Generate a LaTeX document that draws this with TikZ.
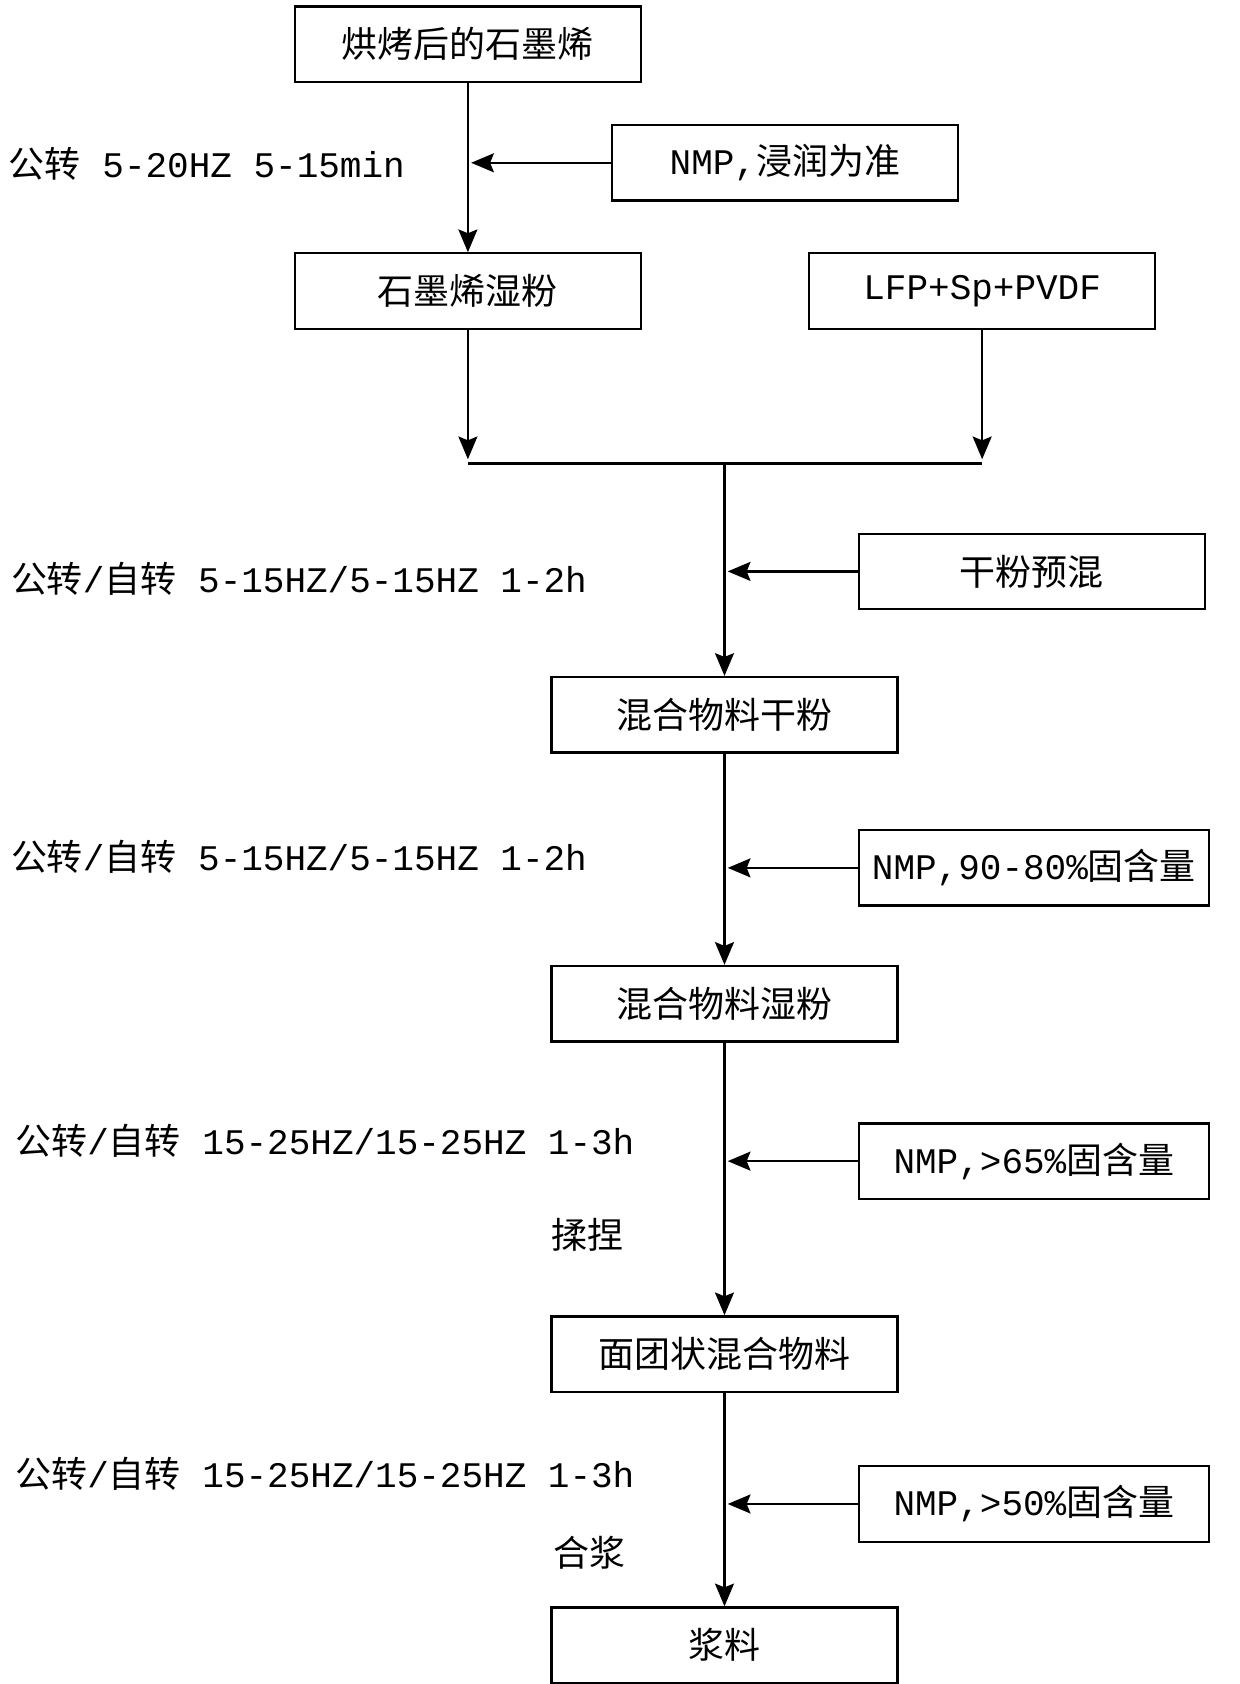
\documentclass[tikz,border=0pt]{standalone}
\usepackage{fontspec}
\setmainfont{Liberation Mono}
\newfontfamily\cjk{Noto Sans CJK SC}
\newcommand{\zh}[1]{{\cjk #1}}
\usetikzlibrary{arrows.meta, positioning, calc}

\begin{document}
\begin{tikzpicture}[x=0.02cm, y=-0.02cm]
    % --- Style Definitions ---
    \tikzset{
        step box/.style={
            draw=black,
            line width=1.2pt,
            minimum width=321*0.02cm,
            minimum height=70*0.02cm,
            font=\fontsize{19}{22}\selectfont,
            inner sep=0pt
        },
        cond text/.style={font=\fontsize{19}{22}\selectfont, anchor=west},
        flow arrow/.style={
            -{Stealth[length=12pt, width=10pt, inset=2pt]},
            line width=1.3pt
        },
        flow line/.style={line width=1.3pt}
    }

    \useasboundingbox (0,0) rectangle (1150,1562);

    % ==========================================
    % BOXES
    % ==========================================
    \node[step box] (baked) at (434,41) {\zh{烘烤后的石墨烯}};
    \node[step box] (nmp_wet) at (728,151) {NMP,\zh{浸润为准}};
    \node[step box] (wet_powder) at (434,270) {\zh{石墨烯湿粉}};
    \node[step box] (lfp) at (911,270) {LFP+Sp+PVDF};
    \node[step box] (premix) at (957,530) {\zh{干粉预混}};
    \node[step box] (dry_mix) at (672,663) {\zh{混合物料干粉}};
    \node[step box, minimum width=325*0.02cm] (nmp_90) at (959,805) {NMP,90-80\%\zh{固含量}};
    \node[step box] (wet_mix) at (672,931) {\zh{混合物料湿粉}};
    \node[step box, minimum width=325*0.02cm] (nmp_65) at (959,1077) {NMP,>65\%\zh{固含量}};
    \node[step box] (dough) at (672,1256) {\zh{面团状混合物料}};
    \node[step box, minimum width=325*0.02cm] (nmp_50) at (959,1395) {NMP,>50\%\zh{固含量}};
    \node[step box] (slurry) at (672,1526) {\zh{浆料}};

    % ==========================================
    % CONNECTORS
    % ==========================================
    \coordinate (join_l) at (434,430);
    \coordinate (join_r) at (911,430);
    \coordinate (join_m) at (672,430);
    \coordinate (tap_1) at (434,151);

    \draw[flow arrow] (baked) -- (wet_powder);
    \draw[flow arrow] (nmp_wet) -- ($(tap_1)+(3,0)$);
    \draw[flow arrow] (wet_powder) -- ($(join_l)+(0,-4)$);
    \draw[flow arrow] (lfp) -- ($(join_r)+(0,-4)$);
    \draw[flow line] (join_l) -- (join_r);

    \draw[flow arrow] (join_m) -- (dry_mix);
    \draw[flow arrow] (premix) -- ($(premix.west -| join_m)+(3,0)$);
    \draw[flow arrow] (dry_mix) -- (wet_mix);
    \draw[flow arrow] (nmp_90) -- ($(nmp_90.west -| join_m)+(3,0)$);
    \draw[flow arrow] (wet_mix) -- (dough);
    \draw[flow arrow] (nmp_65) -- ($(nmp_65.west -| join_m)+(3,0)$);
    \draw[flow arrow] (dough) -- (slurry);
    \draw[flow arrow] (nmp_50) -- ($(nmp_50.west -| join_m)+(3,0)$);

    % ==========================================
    % CONDITIONS
    % ==========================================
    \node[cond text] (cond_1) at (2,152) {\zh{公转} 5-20HZ 5-15min};
    \node[cond text] (cond_2) at (4,537) {\zh{公转}/\zh{自转} 5-15HZ/5-15HZ 1-2h};
    \node[cond text] (cond_3) at (4,795) {\zh{公转}/\zh{自转} 5-15HZ/5-15HZ 1-2h};
    \node[cond text] (cond_4) at (8,1058) {\zh{公转}/\zh{自转} 15-25HZ/15-25HZ 1-3h};
    \node[cond text] (knead) at (505,1145) {\zh{揉捏}};
    \node[cond text] (cond_5) at (8,1367) {\zh{公转}/\zh{自转} 15-25HZ/15-25HZ 1-3h};
    \node[cond text] (mixing) at (507,1440) {\zh{合浆}};
\end{tikzpicture}
\end{document}
